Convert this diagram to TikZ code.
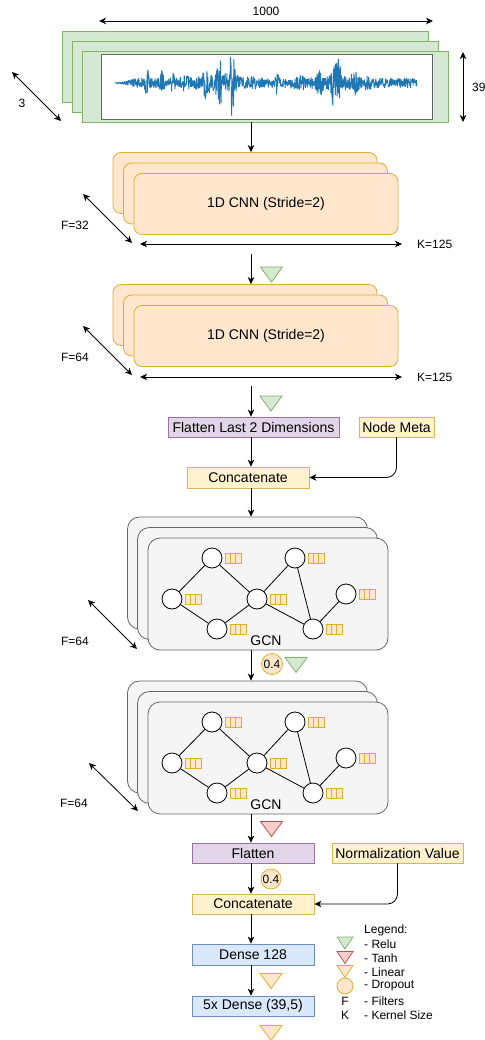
\documentclass[tikz,border=0pt]{standalone}
\usepackage{fontspec}
\setmainfont{Liberation Sans}
\usetikzlibrary{arrows.meta}
\definecolor{gfill}{HTML}{D5E8D4}\definecolor{gline}{HTML}{82B366}
\definecolor{ofill}{HTML}{FFE6CC}\definecolor{oline}{HTML}{D79B00}
\definecolor{yfill}{HTML}{FFF2CC}\definecolor{yline}{HTML}{D6B656}
\definecolor{pfill}{HTML}{E1D5E7}\definecolor{pline}{HTML}{9673A6}
\definecolor{bfill}{HTML}{DAE8FC}\definecolor{bline}{HTML}{6C8EBF}
\definecolor{rfill}{HTML}{F8CECC}\definecolor{rline}{HTML}{B85450}
\definecolor{kfill}{HTML}{F5F5F5}\definecolor{kline}{HTML}{666666}
\definecolor{wave}{HTML}{1F77B4}
\begin{document}
\begin{tikzpicture}[x=1pt,y=-1pt,
  big/.style={font=\fontsize{14}{16}\selectfont},
  small/.style={font=\fontsize{12}{14}\selectfont},
  arr/.style={-{Stealth[length=7pt,width=6.5pt,inset=2pt]},line width=0.8pt},
  darr/.style={{Stealth[length=7pt,width=6.5pt,inset=2pt]}-{Stealth[length=7pt,width=6.5pt,inset=2pt]},line width=0.8pt},
  inbox/.style={draw=gline,fill=gfill,line width=0.8pt,minimum width=366pt,minimum height=71pt,inner sep=0},
  cnnbox/.style={draw=oline!80,fill=ofill,line width=0.8pt,rounded corners=8pt,minimum width=264pt,minimum height=61pt,inner sep=0,big},
  gcnbox/.style={draw=kline,fill=kfill,line width=0.8pt,rounded corners=12pt,minimum width=240pt,minimum height=112pt,inner sep=0},
  lbox/.style={line width=0.8pt,minimum height=20pt,inner sep=0,big},
  purple/.style={lbox,draw=pline,fill=pfill},
  yellow/.style={lbox,draw=yline,fill=yfill},
  blue/.style={lbox,draw=bline,fill=bfill},
  gnode/.style={circle,draw=black,fill=white,line width=0.8pt,minimum size=20pt,inner sep=0},
  gedge/.style={line width=0.8pt},
  feat/.style={draw=oline!80,fill=ofill,line width=0.8pt,minimum width=16pt,minimum height=10pt,inner sep=0},
  drop/.style={circle,draw=oline!80,fill=ofill,line width=0.8pt,inner sep=0,small},
  relu/.style={draw=gline,fill=gfill,line width=0.8pt},
  tanh/.style={draw=rline,fill=rfill,line width=0.8pt},
  linear/.style={draw=oline!80,fill=ofill,line width=0.8pt},
  tri/.pic={\path[#1] (-11,-7.5) -- (11,-7.5) -- (0,7.5) -- cycle;},
  stri/.pic={\path[#1] (-8,-6) -- (8,-6) -- (0,6) -- cycle;},
  declare function={bp(\t,\c,\w)=max(0,1-abs(\t-\c)/\w);
    env(\t)=5*min(1,max(0.15,(\t-115)/22))+5*bp(\t,225,40)+12*bp(\t,147,3)+12*bp(\t,162,3)+8*bp(\t,173,3)
      +12*bp(\t,206,5)+18*bp(\t,220,5)+28*bp(\t,232,4)+8*bp(\t,277,3)+3*bp(\t,335,35)+10*bp(\t,320,4)
      +16*bp(\t,333,4)+22*bp(\t,338,4)+6*bp(\t,355,6)+6*bp(\t,368,4)+4*bp(\t,185,6)+3*bp(\t,300,10);}
]
\useasboundingbox (0,0) rectangle (484,1040);
\coordinate (axis) at (251,0);

% ---------- input ----------
\node[inbox] (in3) at (245,66.5) {};
\node[inbox] (in2) at (255,76.5) {};
\node[inbox] (in1) at (265,86.5) {};
\node[draw=kline,fill=white,line width=0.8pt,minimum width=331pt,minimum height=65pt,inner sep=0] (sig) at (266.5,86.5) {};
\pgfmathsetseed{11}
\draw[wave,line width=0.9pt,line join=bevel] plot[domain=115:417,samples=1000] (\x,{83+env(\x)*rand});

\coordinate (w1) at (99,21); \coordinate (w2) at (433,21);
\draw[darr] (w1) -- node[small,above=2pt] (lw) {1000} (w2);
\coordinate (d1) at (12,72); \coordinate (d2) at (61,121);
\draw[darr] (d1) -- (d2);
\node[small] (ld) at (22,103) {3};
\coordinate (h1) at (463,52); \coordinate (h2) at (463,122);
\draw[darr] (h1) -- (h2);
\node[small,anchor=west,inner sep=0] (lh) at (472,87) {39};

% ---------- CNN 1 ----------
\node[cnnbox] (c1c) at (245,183) {};
\node[cnnbox] (c1b) at (255.5,193.5) {};
\node[cnnbox] (c1a) at (266,204) {1D CNN (Stride=2)};
\draw[arr] (in1.south -| axis) -- (c1c.north -| axis);
\coordinate (f1a) at (83,194); \coordinate (f1b) at (132,243);
\draw[darr] (f1a) -- (f1b);
\node[small] (lf1) at (75,225) {F=32};
\coordinate (k1a) at (140,244); \coordinate (k1b) at (402,244);
\draw[darr] (k1a) -- (k1b);
\node[small,anchor=west,inner sep=0] (lk1) at (417,244) {K=125};

% ---------- CNN 2 ----------
\node[cnnbox] (c2c) at (245,315) {};
\node[cnnbox] (c2b) at (255.5,325.5) {};
\node[cnnbox] (c2a) at (266,336) {1D CNN (Stride=2)};
\coordinate (a1) at (251,254);
\draw[arr] (a1) -- (c2c.north -| axis);
\pic at (271.5,274.5) {tri=relu};
\coordinate (f2a) at (83,326); \coordinate (f2b) at (132,375);
\draw[darr] (f2a) -- (f2b);
\node[small] (lf2) at (75,357) {F=64};
\coordinate (k2a) at (140,377); \coordinate (k2b) at (402,377);
\draw[darr] (k2a) -- (k2b);
\node[small,anchor=west,inner sep=0] (lk2) at (417,377) {K=125};

% ---------- flatten / concat ----------
\node[purple,minimum width=171pt] (flat1) at (253.5,427) {Flatten Last 2 Dimensions};
\node[yellow,minimum width=75pt] (meta) at (396.5,427) {Node Meta};
\node[yellow,minimum width=122pt,minimum height=21pt] (cat1) at (248,477.5) {Concatenate};
\coordinate (a2) at (251,386);
\draw[arr] (a2) -- (flat1.north -| axis);
\pic at (271,403.5) {tri=relu};
\draw[arr] (flat1.south -| axis) -- (cat1.north -| axis);
\draw[arr,rounded corners=10pt] (meta.south) |- (cat1.east);

% ---------- GCN layers ----------
\foreach \s/\n in {0/1,164/2}{
  \node[gcnbox] (g\n c) at (247.5,573+\s) {};
  \node[gcnbox] (g\n b) at (257.5,583.5+\s) {};
  \node[gcnbox] (g\n a) at (268,594+\s) {};
  \node[big] (gl\n) at (266,641+\s) {GCN};
  \foreach \id/\px/\py in {A/212/558,B/172/599,C/217/629,D/257/599,E/295/558,F/313/629,G/346/594}{
    \node[gnode] (n\n\id) at (\px,\py+\s) {};
    \node[feat] (q\n\id) at (\px+21,\py+\s) {};
    \draw[oline!80,line width=0.8pt] ([xshift=-2.7pt]q\n\id.north) -- ([xshift=-2.7pt]q\n\id.south)
      ([xshift=2.7pt]q\n\id.north) -- ([xshift=2.7pt]q\n\id.south);
  }
  \draw[gedge] (n\n A) -- (n\n B) (n\n A) -- (n\n D) (n\n B) -- (n\n C) (n\n C) -- (n\n D)
    (n\n D) -- (n\n E) (n\n D) -- (n\n F) (n\n E) -- (n\n F) (n\n F) -- (n\n G);
}
\draw[arr] (cat1.south -| axis) -- (g1c.north -| axis);
\draw[arr] (g1a.south -| axis) -- (g2c.north -| axis);
\node[drop,minimum size=21pt] (dr1) at (272,664) {0.4};
\pic at (296,665) {tri=relu};
\coordinate (f3a) at (88,600); \coordinate (f3b) at (137,649);
\draw[darr] (f3a) -- (f3b);
\node[small] (lf3) at (75,641) {F=64};
\coordinate (f4a) at (89,763); \coordinate (f4b) at (138,811);
\draw[darr] (f4a) -- (f4b);
\node[small] (lf4) at (74,803) {F=64};

% ---------- head ----------
\node[purple,minimum width=122pt] (flat2) at (253,853) {Flatten};
\node[yellow,minimum width=131pt] (norm) at (397.5,853) {Normalization Value};
\node[yellow,minimum width=122pt] (cat2) at (253,904) {Concatenate};
\node[blue,minimum width=122pt,minimum height=21pt] (d128) at (253,954.5) {Dense 128};
\node[blue,minimum width=122pt] (d5) at (253,1006) {5x Dense (39,5)};
\draw[arr] (g2a.south -| axis) -- (flat2.north -| axis);
\pic at (271.5,829) {tri=tanh};
\draw[arr] (flat2.south -| axis) -- (cat2.north -| axis);
\node[drop,minimum size=20pt] (dr2) at (271,879) {0.4};
\draw[arr,rounded corners=10pt] (norm.south) |- (cat2.east);
\draw[arr] (cat2.south -| axis) -- (d128.north -| axis);
\draw[arr] (d128.south -| axis) -- (d5.north -| axis);
\pic at (271,981) {tri=linear};
\pic at (271,1033) {tri=linear};

% ---------- legend ----------
\node[small,anchor=west,inner sep=0] (lg0) at (364,930) {Legend:};
\node[small,anchor=west,inner sep=0] (lg1) at (364,944) {- Relu};
\node[small,anchor=west,inner sep=0] (lg2) at (364,958) {- Tanh};
\node[small,anchor=west,inner sep=0] (lg3) at (364,972) {- Linear};
\node[small,anchor=west,inner sep=0] (lg4) at (364,986) {- Dropout};
\node[small,anchor=west,inner sep=0] (lg5) at (364,1001) {- Filters};
\node[small,anchor=west,inner sep=0] (lg6) at (364,1015) {- Kernel Size};
\pic at (345,943) {stri=relu};
\pic at (345,957.5) {stri=tanh};
\pic at (345,971.5) {stri=linear};
\node[drop,minimum size=16pt] (lgd) at (345,986) {};
\node[small] (lgf) at (345,1001) {F};
\node[small] (lgk) at (345,1015) {K};
\end{tikzpicture}
\end{document}
